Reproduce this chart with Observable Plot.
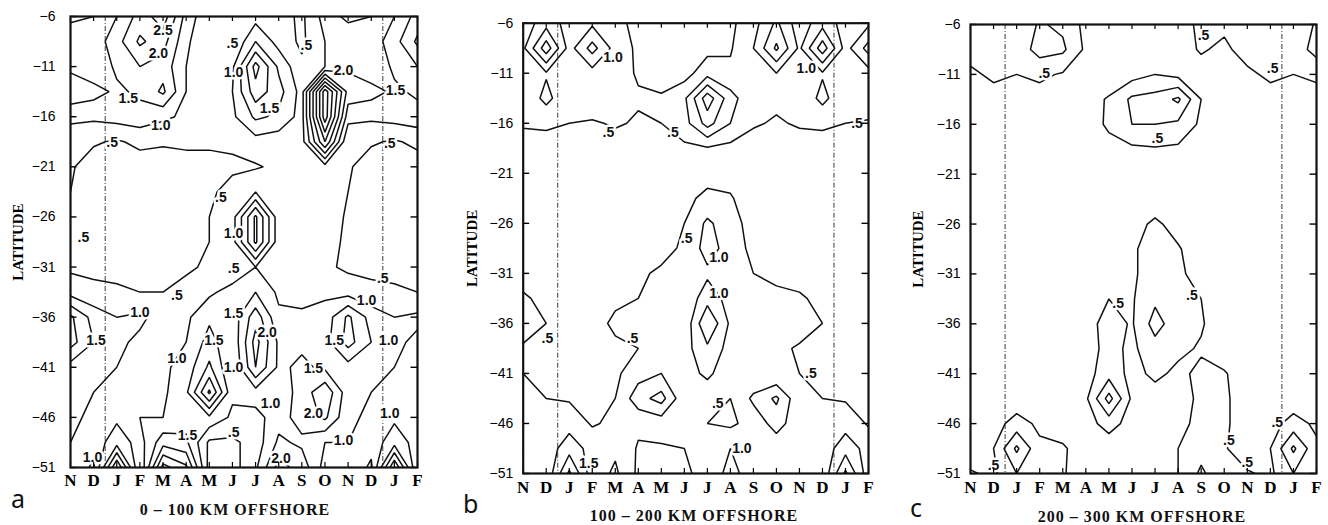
<!DOCTYPE html>
<html>
<head>
<meta charset="utf-8">
<script src="https://cdn.jsdelivr.net/npm/d3@7"></script>
<script src="https://cdn.jsdelivr.net/npm/@observablehq/plot@0.6"></script>
<style>
  body { margin: 0; background: #fff; }
  #wrap { position: relative; width: 1328px; height: 525px; background: #fff; overflow: hidden; }
  .pnl { position: absolute; top: 0; }
  .cap { position: absolute; font: bold 16px "Liberation Serif", serif; letter-spacing: 1px; white-space: nowrap; transform: translate(-50%, -50%); color: #111; line-height: 1; }
  .let { position: absolute; font: 25px "Noto Sans", sans-serif; color: #111; line-height: 1; }
  svg [aria-label="y-axis tick label"] { font-family: "Liberation Sans", sans-serif; font-size: 14px; }
  svg [aria-label="x-axis tick label"] { font-family: "Liberation Serif", serif; font-weight: bold; font-size: 17px; }
  svg [aria-label="y-axis label"] { font-family: "Liberation Serif", serif; font-weight: bold; font-size: 15px; }
</style>
</head>
<body>
<div id="wrap"></div>
<script>
// ---------- data ----------
const monthLabels = ["N","D","J","F","M","A","M","J","J","A","S","O","N","D","J","F"];
const latitudes = [-6,-8.5,-11,-13.5,-16,-18.5,-21,-23.5,-26,-28.5,-31,-33.5,-36,-38.5,-41,-43.5,-46,-48.5,-51];
const yTicks = [-6,-11,-16,-21,-26,-31,-36,-41,-46,-51];
const dividers = [1.5, 13.5];
const thresholds = [0.5, 1, 1.5, 2, 2.5, 3, 3.5, 4];
const captions = ["0 \u2013 100 KM OFFSHORE", "100 \u2013 200 KM OFFSHORE", "200 \u2013 300 KM OFFSHORE"];
const panelLetters = ["a", "b", "c"];

// rows = latitudes (north to south), columns = N D J F M A M J J A S O (repeats N D J F)
const gridA = [
  [0.9,1.0,1.5,2.2,2.8,1.3,0.6,0.5,0.8,0.7,0.4,1.2],
  [1.3,1.2,1.8,2.6,2.2,1.1,0.55,0.5,1.5,0.8,0.4,1.0],
  [1.4,1.1,1.6,2.0,1.8,1.0,0.5,0.9,2.7,1.4,0.6,1.0],
  [1.8,1.7,1.4,1.6,2.1,1.0,0.7,1.0,2.3,1.7,0.8,4.3],
  [1.2,1.1,1.2,1.3,1.1,0.9,0.7,0.9,1.6,1.4,0.8,4.3],
  [0.5,0.55,0.45,0.6,0.55,0.6,0.6,0.6,0.8,0.7,0.8,3.0],
  [0.55,0.3,0.3,0.3,0.3,0.3,0.3,0.4,0.45,0.6,0.7,0.8],
  [0.5,0.3,0.2,0.2,0.2,0.3,0.4,0.7,1.0,0.7,0.6,0.7],
  [0.45,0.3,0.2,0.2,0.2,0.3,0.5,0.8,2.6,0.7,0.6,0.7],
  [0.45,0.3,0.2,0.2,0.3,0.35,0.5,0.8,2.6,0.7,0.6,0.6],
  [0.4,0.4,0.3,0.3,0.3,0.4,0.6,0.6,1.0,0.7,0.6,0.6],
  [0.8,0.6,0.6,0.5,0.5,0.7,0.9,1.2,1.5,0.9,0.8,0.9],
  [2.1,1.3,1.0,1.1,0.8,0.9,1.4,1.2,2.3,1.1,1.1,1.2],
  [2.2,1.5,1.1,0.9,0.9,1.0,1.7,1.1,2.7,1.4,1.4,1.3],
  [1.3,1.1,1.0,0.8,0.9,1.2,2.1,1.0,2.5,1.4,1.6,1.4],
  [1.2,1.0,0.9,0.8,0.9,1.4,3.1,1.1,1.3,1.2,1.7,2.4],
  [1.1,0.9,0.9,1.0,1.0,1.3,1.4,0.9,0.8,1.3,1.7,2.1],
  [1.0,0.7,1.3,0.8,1.8,1.6,0.4,0.4,0.7,1.6,1.4,1.0],
  [0.9,0.4,3.0,0.5,3.2,2.6,0.3,0.3,0.9,2.2,1.8,0.8]
];
const gridB = [
  [0.7,1.3,0.8,0.9,0.6,0.4,0.3,0.3,0.3,0.4,0.8,1.6],
  [0.9,2.3,0.8,1.7,0.8,0.4,0.3,0.3,0.35,0.45,1.0,2.1],
  [0.7,0.95,0.7,0.8,0.7,0.45,0.3,0.3,0.8,0.6,0.6,1.0],
  [0.6,1.15,0.6,0.8,0.65,0.55,0.55,0.9,2.3,1.2,0.6,0.6],
  [0.55,0.6,0.5,0.45,0.55,0.45,0.5,0.8,1.7,1.0,0.55,0.45],
  [0.3,0.25,0.3,0.3,0.3,0.3,0.3,0.4,0.45,0.35,0.3,0.3],
  [0.2,0.2,0.2,0.2,0.2,0.2,0.2,0.3,0.35,0.3,0.2,0.2],
  [0.2,0.2,0.2,0.2,0.2,0.2,0.2,0.4,0.6,0.55,0.2,0.2],
  [0.2,0.2,0.2,0.2,0.2,0.2,0.2,0.5,1.1,0.7,0.3,0.2],
  [0.2,0.2,0.2,0.2,0.2,0.3,0.3,0.6,1.2,0.8,0.35,0.3],
  [0.35,0.2,0.2,0.2,0.3,0.4,0.6,0.7,0.9,0.7,0.5,0.4],
  [0.55,0.4,0.2,0.3,0.4,0.5,0.7,0.6,1.3,0.8,0.6,0.6],
  [0.7,0.5,0.3,0.3,0.6,0.5,0.6,0.6,2.0,0.9,0.6,0.7],
  [0.45,0.4,0.3,0.3,0.4,0.5,0.6,0.8,1.4,0.8,0.55,0.6],
  [0.5,0.4,0.4,0.35,0.4,0.8,1.0,0.8,1.1,0.7,0.6,0.5],
  [0.6,0.5,0.45,0.4,0.5,1.3,1.7,0.6,0.7,0.5,1.1,1.6],
  [0.7,0.6,0.8,0.45,0.6,0.6,0.7,0.6,0.5,0.4,0.7,1.2],
  [1.0,0.7,1.3,0.8,0.9,0.45,0.45,0.5,0.6,1.0,0.6,0.7],
  [0.6,0.6,2.1,0.7,1.1,0.4,0.4,0.45,0.6,1.2,0.7,0.6]
];
const gridC = [
  [0.55,0.8,0.7,1.05,0.9,0.35,0.2,0.2,0.3,0.3,0.6,0.6],
  [0.7,0.7,0.7,1.2,1.1,0.4,0.2,0.2,0.3,0.3,0.55,0.4],
  [0.4,0.6,0.5,0.6,0.45,0.3,0.2,0.3,0.5,0.35,0.3,0.3],
  [0.3,0.3,0.3,0.3,0.3,0.3,0.55,1.1,1.2,1.6,0.5,0.3],
  [0.2,0.2,0.2,0.2,0.2,0.2,0.6,1.0,1.0,0.9,0.4,0.2],
  [0.2,0.2,0.2,0.2,0.2,0.2,0.3,0.4,0.45,0.4,0.2,0.2],
  [0.2,0.2,0.2,0.2,0.2,0.2,0.2,0.2,0.2,0.2,0.2,0.2],
  [0.2,0.2,0.2,0.2,0.2,0.2,0.2,0.2,0.2,0.2,0.2,0.2],
  [0.2,0.2,0.2,0.2,0.2,0.2,0.2,0.3,0.6,0.3,0.2,0.2],
  [0.2,0.2,0.2,0.2,0.2,0.2,0.2,0.4,0.8,0.55,0.2,0.2],
  [0.2,0.2,0.2,0.2,0.2,0.2,0.3,0.4,0.8,0.6,0.3,0.2],
  [0.2,0.2,0.2,0.2,0.2,0.3,0.5,0.45,0.9,0.7,0.5,0.2],
  [0.2,0.2,0.2,0.2,0.2,0.3,0.7,0.45,1.2,0.7,0.55,0.2],
  [0.2,0.2,0.2,0.2,0.2,0.3,0.65,0.4,0.8,0.6,0.45,0.2],
  [0.2,0.2,0.2,0.2,0.2,0.3,0.8,0.35,0.6,0.4,0.6,0.55],
  [0.2,0.2,0.2,0.2,0.2,0.4,1.7,0.4,0.3,0.3,0.6,0.6],
  [0.2,0.3,0.7,0.4,0.3,0.3,0.7,0.3,0.2,0.4,0.6,0.6],
  [0.2,0.5,1.6,0.6,0.55,0.3,0.2,0.2,0.2,0.5,0.8,0.55],
  [0.55,0.4,1.0,0.6,0.55,0.2,0.2,0.2,0.2,0.5,1.1,0.6]
];

// contour labels: text, month index, latitude
const labelsA = [
  {t:"2.5",m:4.0,lat:-7.4},{t:"2.0",m:3.8,lat:-9.7},{t:"1.5",m:2.5,lat:-14.2},{t:"1.0",m:3.9,lat:-16.9},
  {t:".5",m:1.8,lat:-18.6},{t:".5",m:7.0,lat:-8.7},{t:".5",m:10.2,lat:-8.9},{t:"1.0",m:7.05,lat:-11.6},
  {t:"1.5",m:8.6,lat:-15.2},{t:"2.0",m:11.8,lat:-11.4},{t:"1.5",m:14.05,lat:-13.4},{t:".5",m:13.8,lat:-18.7},
  {t:".5",m:6.5,lat:-24.1},{t:"1.0",m:7.05,lat:-27.7},{t:".5",m:0.56,lat:-28.1},{t:".5",m:7.05,lat:-31.1},
  {t:".5",m:4.6,lat:-33.8},{t:"1.0",m:3.0,lat:-35.5},{t:"1.5",m:1.1,lat:-38.3},{t:"1.0",m:4.6,lat:-40.1},
  {t:"1.5",m:6.2,lat:-38.3},{t:"1.5",m:7.05,lat:-35.6},{t:"2.0",m:8.5,lat:-37.5},{t:"1.0",m:7.05,lat:-41.0},
  {t:"1.0",m:8.65,lat:-44.6},{t:"1.5",m:10.5,lat:-41.1},{t:"2.0",m:10.5,lat:-45.6},{t:"1.0",m:11.8,lat:-48.3},
  {t:"2.0",m:9.1,lat:-50.1},{t:"1.5",m:5.06,lat:-47.8},{t:".5",m:7.05,lat:-47.5},{t:"1.0",m:0.95,lat:-50.0},
  {t:"1.5",m:11.4,lat:-38.3},{t:"1.0",m:13.75,lat:-38.3},{t:"1.0",m:12.8,lat:-34.3},{t:".5",m:13.5,lat:-32.1},
  {t:"1.0",m:13.8,lat:-45.6}
];
const labelsB = [
  {t:"1.0",m:3.9,lat:-9.4},{t:".5",m:3.7,lat:-16.9},{t:".5",m:6.5,lat:-16.9},{t:"1.0",m:12.3,lat:-10.5},
  {t:".5",m:14.5,lat:-16.0},{t:".5",m:7.1,lat:-27.5},{t:"1.0",m:8.5,lat:-29.4},{t:"1.0",m:8.5,lat:-33.0},
  {t:".5",m:1.05,lat:-37.5},{t:".5",m:4.75,lat:-37.5},{t:".5",m:8.45,lat:-44.0},{t:".5",m:12.5,lat:-41.0},
  {t:"1.0",m:9.5,lat:-48.5},{t:"1.5",m:2.85,lat:-50.0}
];
const labelsC = [
  {t:".5",m:3.2,lat:-10.9},{t:".5",m:10.1,lat:-7.1},{t:".5",m:13.1,lat:-10.4},{t:".5",m:8.1,lat:-17.4},
  {t:".5",m:6.4,lat:-34.0},{t:".5",m:9.6,lat:-33.2},{t:".5",m:11.2,lat:-47.7},{t:".5",m:12.0,lat:-49.9},
  {t:".5",m:1.0,lat:-50.2},{t:".5",m:13.3,lat:-45.9}
];

// ---------- drawing ----------
const monthIdx = d3.range(monthLabels.length);

function makePanel(grid, labels, cfg) {
  const values = grid.flatMap(row => row.concat(row.slice(0, 4)));
  const nx = 16, ny = latitudes.length;
  const dLat = (latitudes[0] - latitudes[1]) / 2;
  return Plot.plot({
    width: cfg.width, height: cfg.height,
    marginLeft: cfg.ml, marginTop: cfg.mt, marginRight: cfg.mr, marginBottom: cfg.mb,
    x: {domain: [0, nx - 1]},
    y: {domain: [latitudes[ny - 1], latitudes[0]]},
    style: {background: "transparent", overflow: "visible"},
    marks: [
      Plot.contour(values, {
        width: nx, height: ny,
        x1: -0.5, x2: nx - 0.5,
        y1: latitudes[0] + dLat, y2: latitudes[ny - 1] - dLat,
        thresholds, stroke: "#111", strokeWidth: 1.5, fill: "none", clip: true
      }),
      Plot.ruleX(dividers, {stroke: "#222", strokeWidth: 0.9, strokeDasharray: "5,2,1,2"}),
      Plot.text(labels, {x: "m", y: "lat", text: "t", fontSize: 14, fontWeight: "bold",
        fontFamily: "Liberation Sans, sans-serif",
        fill: "#111", stroke: "white", strokeWidth: 5, paintOrder: "stroke"}),
      Plot.ruleX(monthIdx, {y1: latitudes[0], y2: latitudes[0] - 0.5, strokeWidth: 1.2}),
      Plot.ruleX(monthIdx, {y1: latitudes[ny - 1], y2: latitudes[ny - 1] + 0.5, strokeWidth: 1.2}),
      Plot.ruleY(yTicks, {x1: 0, x2: 0.28, strokeWidth: 1.4}),
      Plot.ruleY(yTicks, {x1: nx - 1.28, x2: nx - 1, strokeWidth: 1.4}),
      Plot.axisY(yTicks, {tickSize: 0, tickPadding: cfg.tp, tickFormat: d => "\u2212" + Math.abs(d),
        label: "LATITUDE", labelAnchor: "center", labelOffset: cfg.lo, labelArrow: false}),
      Plot.axisX(monthIdx, {tickSize: 0, tickPadding: cfg.xp, tickFormat: i => monthLabels[i], label: null}),
      Plot.frame({stroke: "#111", strokeWidth: 2.2})
    ]
  });
}

const wrap = document.getElementById("wrap");
const cfgs = [
  {left: 0,   width: 427, height: 497, ml: 70,   mt: 16,   mr: 10, mb: 30, tp: 15, lo: 58, xp: 6,
   capX: 235, capY: 510, letX: 11, letY: 486},
  {left: 440, width: 436, height: 503, ml: 82.7, mt: 22.7, mr: 8,  mb: 30, tp: 10, lo: 57, xp: 7,
   capX: 694, capY: 516, letX: 463, letY: 491},
  {left: 880, width: 444, height: 503, ml: 90,   mt: 24,   mr: 8,  mb: 30, tp: 10, lo: 58, xp: 7,
   capX: 1142, capY: 517, letX: 910, letY: 495}
];
const grids = [gridA, gridB, gridC];
const labelSets = [labelsA, labelsB, labelsC];

cfgs.forEach((cfg, i) => {
  const div = document.createElement("div");
  div.className = "pnl";
  div.style.left = cfg.left + "px";
  div.appendChild(makePanel(grids[i], labelSets[i], cfg));
  wrap.appendChild(div);

  const cap = document.createElement("div");
  cap.className = "cap";
  cap.style.left = cfg.capX + "px";
  cap.style.top = cfg.capY + "px";
  cap.textContent = captions[i];
  wrap.appendChild(cap);

  const let_ = document.createElement("div");
  let_.className = "let";
  let_.style.left = cfg.letX + "px";
  let_.style.top = cfg.letY + "px";
  let_.textContent = panelLetters[i];
  wrap.appendChild(let_);
});
</script>
</body>
</html>
